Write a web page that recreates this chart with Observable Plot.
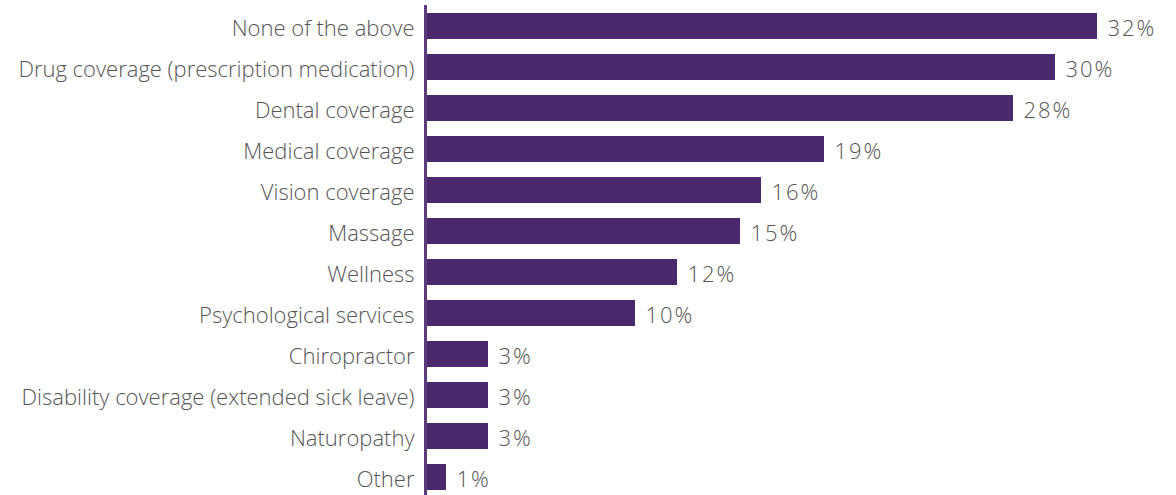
<!DOCTYPE html>
<html><head><meta charset="utf-8">
<script src="https://cdn.jsdelivr.net/npm/d3@7"></script>
<script src="https://cdn.jsdelivr.net/npm/@observablehq/plot@0.6"></script>
<style>
html,body{margin:0;padding:0;background:#fff;overflow:hidden;}
svg{display:block;}
</style></head>
<body><div id="chart"></div>
<script>
const categories = ["None of the above","Drug coverage (prescription medication)","Dental coverage","Medical coverage","Vision coverage","Massage","Wellness","Psychological services","Chiropractor","Disability coverage (extended sick leave)","Naturopathy","Other"];
const values = [32,30,28,19,16,15,12,10,3,3,3,1];
const data = categories.map((c,i)=>({category:c, value:values[i]}));

const chart = Plot.plot({
  width: 1176, height: 495,
  marginLeft: 425, marginRight: 16, marginTop: 8, marginBottom: 0,
  style: {fontFamily: "'Open Sans', 'Liberation Sans', sans-serif", fontWeight: 300, color: "#555"},
  x: {domain: [0, 35], axis: null},
  y: {domain: categories, paddingInner: 0.366, paddingOuter: 0.122, label: null},
  marks: [
    Plot.barX(data, {x: "value", y: "category", fill: "#4B286D"}),
    Plot.axisY({tickSize: 0, tickPadding: 11, fontSize: 22, fill: "#555", fontWeight: 300, dy: 2}),
    Plot.text(data, {x: "value", y: "category", text: d => d.value + "%", textAnchor: "start", dx: 10, dy: 2, fontSize: 22, fill: "#555", fontWeight: 300}),
    Plot.ruleX([0], {stroke: "#5B3A7E", strokeWidth: 3, insetTop: -3})
  ]
});
chart.querySelectorAll("text").forEach(t=>{ if(/%$/.test(t.textContent)) t.setAttribute("letter-spacing","2"); });
document.getElementById("chart").append(chart);
</script></body></html>
